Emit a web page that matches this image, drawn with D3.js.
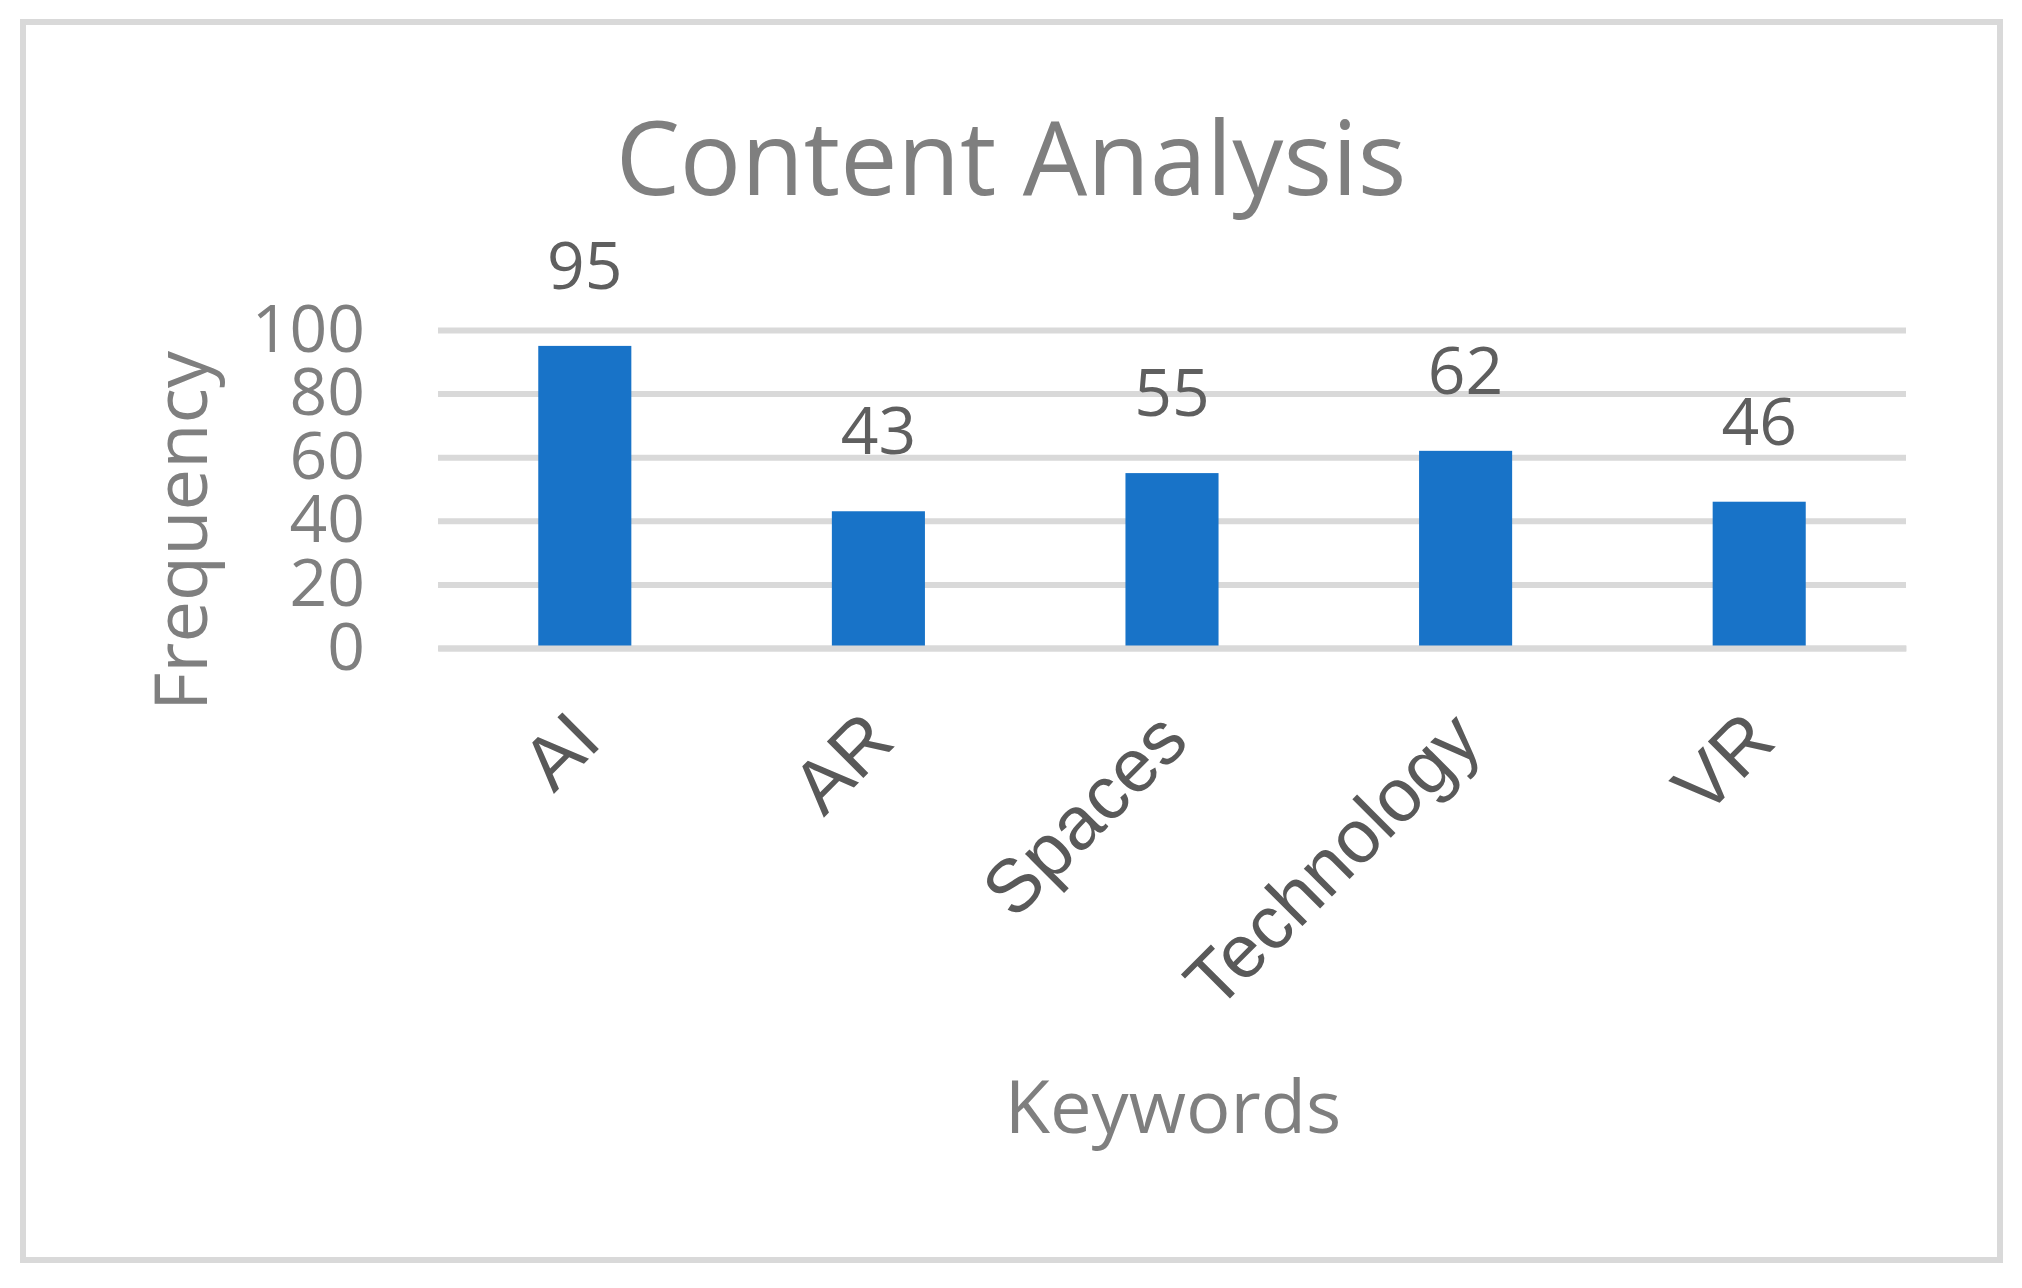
<!DOCTYPE html>
<meta charset="utf-8">
<style>
body { margin: 0; background: #fff; }
svg { display: block; }
.grid line { stroke: #d9d9d9; stroke-width: 6; }
.grid text { font: 66px "Open Sans", sans-serif; fill: #7f7f7f; }
.xaxis path { stroke: #d9d9d9; stroke-width: 6; }
.xaxis text { font: 75px "Liberation Sans", Arial, sans-serif; fill: #595959; }
.label { font: 66px "Open Sans", sans-serif; fill: #5f5f5f; }
.title { font: 102px "Open Sans", sans-serif; fill: #7f7f7f; }
.axis-title { font: 74px "Open Sans", sans-serif; fill: #7f7f7f; }
</style>
<body>
<svg width="2022" height="1288"></svg>
<script src="https://cdn.jsdelivr.net/npm/d3@7"></script>
<script>

var keywords = ["AI", "AR", "Spaces", "Technology", "VR"];
var frequency = [95, 43, 55, 62, 46];
var yTicks = [0, 20, 40, 60, 80, 100];

var svg = d3.select("svg"),
    width = +svg.attr("width"),
    height = +svg.attr("height");

// chart border
svg.append("rect")
    .attr("x", 23).attr("y", 22)
    .attr("width", 1977).attr("height", 1238)
    .attr("fill", "none")
    .attr("stroke", "#d9d9d9")
    .attr("stroke-width", 6);

var x = d3.scaleBand()
    .domain(keywords)
    .range([438, 1906])
    .paddingInner(0.683)
    .paddingOuter(0.3415);

var y = d3.scaleLinear()
    .domain([0, 100])
    .range([648, 330]);

svg.append("g")
    .attr("class", "grid")
    .attr("transform", "translate(438,0)")
    .call(d3.axisLeft(y)
      .tickValues(yTicks)
      .tickSize(-1468)
      .tickPadding(73))
  .call(function(g) { g.select(".domain").remove(); });

svg.append("g")
  .selectAll("rect")
  .data(frequency)
  .enter().append("rect")
    .attr("x", function(d, i) { return x(keywords[i]); })
    .attr("y", function(d) { return y(d); })
    .attr("width", x.bandwidth())
    .attr("height", function(d) { return y(0) - y(d); })
    .attr("fill", "#1873c8");

svg.append("g")
  .selectAll("text")
  .data(frequency)
  .enter().append("text")
    .attr("class", "label")
    .attr("x", function(d, i) { return x(keywords[i]) + x.bandwidth() / 2; })
    .attr("y", function(d) { return y(d) - 57; })
    .attr("text-anchor", "middle")
    .text(function(d) { return d; });

var xaxis = svg.append("g")
    .attr("class", "xaxis")
    .attr("transform", "translate(0," + y(0) + ")")
    .call(d3.axisBottom(x).tickSize(0).tickSizeOuter(0));

xaxis.selectAll(".tick text")
    .attr("text-anchor", "end")
    .attr("dy", null)
    .attr("y", null)
    .attr("transform", "translate(19,96) rotate(-45)");

svg.append("text")
    .attr("class", "title")
    .attr("x", width / 2)
    .attr("y", 195)
    .attr("text-anchor", "middle")
    .text("Content Analysis");

svg.append("text")
    .attr("class", "axis-title")
    .attr("transform", "translate(207,531) rotate(-90)")
    .attr("text-anchor", "middle")
    .text("Frequency");

svg.append("text")
    .attr("class", "axis-title")
    .attr("x", 1173)
    .attr("y", 1133)
    .attr("text-anchor", "middle")
    .text("Keywords");

</script>
</body>
